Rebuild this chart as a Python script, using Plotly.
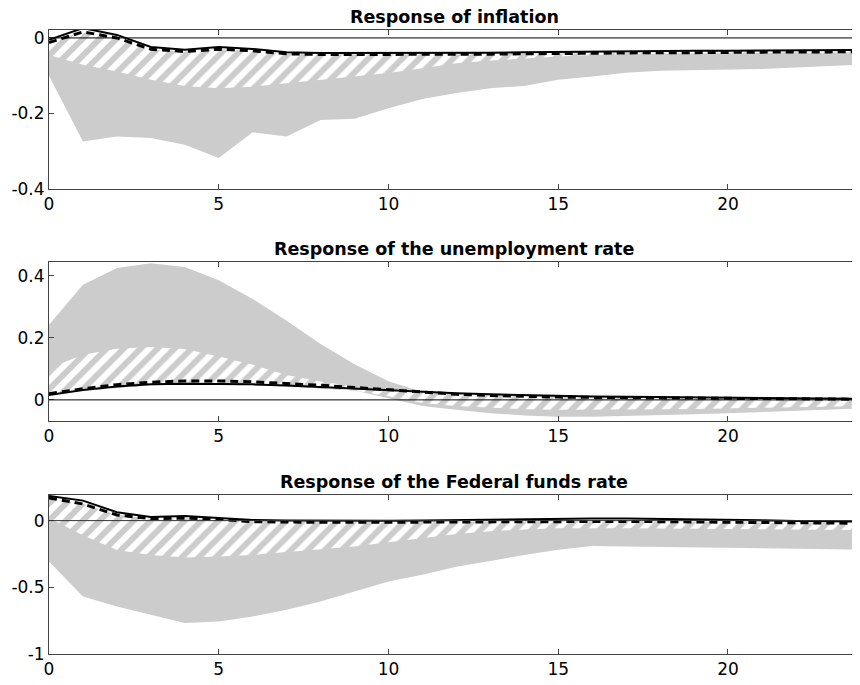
import plotly.graph_objects as go

horizon = list(range(25))

# ---------- Panel 1: inflation ----------
infl_solid = [-0.005, 0.026, 0.008, -0.024, -0.031, -0.024, -0.029, -0.038, -0.040, -0.040,
              -0.040, -0.040, -0.040, -0.039, -0.038, -0.037, -0.036, -0.035, -0.035, -0.034,
              -0.034, -0.033, -0.033, -0.032, -0.032]
infl_dashed = [-0.012, 0.016, 0.000, -0.030, -0.036, -0.030, -0.034, -0.042, -0.044, -0.044,
               -0.044, -0.044, -0.044, -0.043, -0.042, -0.041, -0.040, -0.040, -0.039, -0.039,
               -0.038, -0.038, -0.037, -0.037, -0.036]
infl_hatch_hi = [-0.010, 0.016, 0.000, -0.030, -0.036, -0.030, -0.034, -0.042, -0.044, -0.044,
                 -0.044, -0.044, -0.044, -0.043, -0.042, -0.041, -0.040, -0.040, -0.039, -0.039,
                 -0.038, -0.038, -0.037, -0.037, -0.036]
infl_hatch_lo = [-0.045, -0.071, -0.089, -0.111, -0.127, -0.133, -0.129, -0.120, -0.111, -0.100,
                 -0.093, -0.080, -0.067, -0.060, -0.054, -0.049, -0.045, -0.043, -0.041, -0.040,
                 -0.040, -0.039, -0.039, -0.038, -0.038]
infl_band_hi = [-0.015, 0.005, -0.008, -0.035, -0.040, -0.035, -0.038, -0.045, -0.046, -0.046,
                -0.046, -0.046, -0.045, -0.045, -0.044, -0.043, -0.042, -0.042, -0.041, -0.041,
                -0.040, -0.040, -0.040, -0.039, -0.039]
infl_band_lo = [-0.100, -0.274, -0.261, -0.265, -0.283, -0.318, -0.250, -0.261, -0.217, -0.214,
                -0.186, -0.162, -0.146, -0.133, -0.127, -0.111, -0.102, -0.092, -0.087, -0.086,
                -0.084, -0.082, -0.078, -0.074, -0.070]

# ---------- Panel 2: unemployment ----------
unemp_solid = [0.016, 0.032, 0.043, 0.050, 0.052, 0.052, 0.050, 0.046, 0.041, 0.036,
               0.030, 0.025, 0.021, 0.018, 0.015, 0.013, 0.011, 0.010, 0.009, 0.008,
               0.007, 0.006, 0.005, 0.004, 0.003]
unemp_dashed = [0.020, 0.036, 0.049, 0.057, 0.061, 0.061, 0.058, 0.053, 0.047, 0.040,
                0.032, 0.024, 0.018, 0.014, 0.011, 0.009, 0.008, 0.007, 0.006, 0.005,
                0.004, 0.004, 0.003, 0.003, 0.002]
unemp_hatch_hi = [0.102, 0.145, 0.165, 0.170, 0.164, 0.140, 0.113, 0.080, 0.059, 0.043,
                  0.030, 0.024, 0.019, 0.015, 0.012, 0.010, 0.009, 0.008, 0.007, 0.006,
                  0.005, 0.005, 0.004, 0.004, 0.003]
unemp_hatch_lo = [0.020, 0.029, 0.040, 0.047, 0.049, 0.049, 0.047, 0.043, 0.037, 0.030,
                  0.012, -0.010, -0.020, -0.026, -0.030, -0.032, -0.032, -0.031, -0.030, -0.029,
                  -0.027, -0.025, -0.023, -0.021, -0.020]
unemp_band_hi = [0.242, 0.371, 0.425, 0.440, 0.428, 0.385, 0.325, 0.255, 0.180, 0.115,
                 0.060, 0.025, 0.019, 0.015, 0.012, 0.010, 0.009, 0.008, 0.007, 0.006,
                 0.005, 0.005, 0.004, 0.004, 0.003]
unemp_band_lo = [0.020, 0.029, 0.040, 0.047, 0.049, 0.049, 0.047, 0.043, 0.037, 0.030,
                 0.005, -0.020, -0.032, -0.043, -0.050, -0.054, -0.054, -0.052, -0.049, -0.046,
                 -0.043, -0.039, -0.034, -0.030, -0.027]

# ---------- Panel 3: Federal funds rate ----------
ffr_solid = [0.185, 0.150, 0.063, 0.028, 0.035, 0.022, 0.005, 0.000, -0.002, -0.002,
             -0.001, 0.000, 0.004, 0.008, 0.012, 0.015, 0.016, 0.015, 0.013, 0.010,
             0.006, 0.002, -0.002, -0.005, -0.007]
ffr_dashed = [0.170, 0.125, 0.042, 0.015, 0.018, 0.010, -0.008, -0.012, -0.013, -0.013,
              -0.012, -0.010, -0.008, -0.006, -0.005, -0.004, -0.005, -0.006, -0.008, -0.010,
              -0.012, -0.014, -0.016, -0.018, -0.020]
ffr_hatch_hi = [0.172, 0.127, 0.044, 0.015, 0.018, 0.010, -0.008, -0.012, -0.013, -0.013,
                -0.012, -0.010, -0.008, -0.006, -0.005, -0.004, -0.005, -0.006, -0.008, -0.010,
                -0.012, -0.014, -0.016, -0.018, -0.020]
ffr_hatch_lo = [0.020, -0.110, -0.220, -0.257, -0.277, -0.270, -0.257, -0.237, -0.220, -0.195,
                -0.162, -0.132, -0.100, -0.080, -0.066, -0.058, -0.056, -0.058, -0.060, -0.062,
                -0.064, -0.066, -0.068, -0.069, -0.070]
ffr_band_hi = [0.050, 0.110, 0.035, 0.008, 0.010, 0.002, -0.015, -0.018, -0.019, -0.019,
               -0.018, -0.016, -0.014, -0.012, -0.011, -0.010, -0.011, -0.012, -0.014, -0.016,
               -0.018, -0.020, -0.022, -0.024, -0.026]
ffr_band_lo = [-0.307, -0.569, -0.644, -0.706, -0.768, -0.756, -0.719, -0.668, -0.606, -0.531,
               -0.457, -0.405, -0.345, -0.302, -0.257, -0.219, -0.190, -0.194, -0.198, -0.202,
               -0.206, -0.209, -0.212, -0.215, -0.217]

titles = ["Response of inflation",
          "Response of the unemployment rate",
          "Response of the Federal funds rate"]

x_ticks = [0, 5, 10, 15, 20]
x_ticklabels = ["0", "5", "10", "15", "20"]
y_ticks = [[-0.4, -0.2, 0], [0, 0.2, 0.4], [-1, -0.5, 0]]
y_ticklabels = [["-0.4", "-0.2", "0"], ["0", "0.2", "0.4"], ["-1", "-0.5", "0"]]
y_ranges = [[-0.4, 0.021], [-0.068, 0.444], [-1.0, 0.192]]
domains = [[0.7452, 1.0], [0.3734, 0.6282], [0.0, 0.2548]]

panels = [
    (infl_band_hi, infl_band_lo, infl_hatch_hi, infl_hatch_lo, infl_dashed, infl_solid),
    (unemp_band_hi, unemp_band_lo, unemp_hatch_hi, unemp_hatch_lo, unemp_dashed, unemp_solid),
    (ffr_band_hi, ffr_band_lo, ffr_hatch_hi, ffr_hatch_lo, ffr_dashed, ffr_solid),
]

GRAY = "#cccccc"
FONT = "DejaVu Sans, Liberation Sans, Arial"
fig = go.Figure()

for i, (bhi, blo, hhi, hlo, dsh, sol) in enumerate(panels):
    n = "" if i == 0 else str(i + 1)
    xa, ya = "x" + n, "y" + n
    # wide gray band
    fig.add_trace(go.Scatter(x=horizon, y=bhi, mode="lines", line=dict(width=0, color=GRAY),
                             xaxis=xa, yaxis=ya, showlegend=False, hoverinfo="skip"))
    fig.add_trace(go.Scatter(x=horizon, y=blo, mode="lines", line=dict(width=0, color=GRAY),
                             fill="tonexty", fillcolor=GRAY,
                             xaxis=xa, yaxis=ya, showlegend=False, hoverinfo="skip"))
    # hatched band
    fig.add_trace(go.Scatter(x=horizon, y=hhi, mode="lines", line=dict(width=0, color=GRAY),
                             xaxis=xa, yaxis=ya, showlegend=False, hoverinfo="skip"))
    fig.add_trace(go.Scatter(x=horizon, y=hlo, mode="lines", line=dict(width=0, color=GRAY),
                             fill="tonexty", fillcolor=GRAY,
                             fillpattern=dict(shape="/", bgcolor=GRAY, fgcolor="#ffffff",
                                              size=12, solidity=0.5, fillmode="replace"),
                             xaxis=xa, yaxis=ya, showlegend=False, hoverinfo="skip"))
    # dashed line
    fig.add_trace(go.Scatter(x=horizon, y=dsh, mode="lines",
                             line=dict(width=3, color="black", dash="8px,5px"),
                             xaxis=xa, yaxis=ya, showlegend=False, hoverinfo="skip"))
    # solid line
    fig.add_trace(go.Scatter(x=horizon, y=sol, mode="lines",
                             line=dict(width=2, color="black"),
                             xaxis=xa, yaxis=ya, showlegend=False, hoverinfo="skip"))
    # zero line
    fig.add_shape(type="line", xref=xa + " domain", yref=ya, x0=0, x1=1, y0=0, y1=0,
                  line=dict(color="black" if i < 2 else "#333333", width=1), layer="above")

    axis_common = dict(showline=True, linecolor="#444444", linewidth=1, mirror="ticks",
                       ticks="inside", ticklen=5, tickcolor="#444444", showgrid=False,
                       zeroline=False, automargin=False,
                       tickfont=dict(family=FONT, size=17, color="black"))
    fig.layout["xaxis" + n] = dict(domain=[0, 1], range=[0, 23.86], anchor=ya,
                                   tickvals=x_ticks, ticktext=x_ticklabels, **axis_common)
    fig.layout["yaxis" + n] = dict(domain=domains[i], range=y_ranges[i], anchor=xa,
                                   tickvals=y_ticks[i], ticktext=y_ticklabels[i], **axis_common)
    fig.add_annotation(text="<b>" + titles[i] + "</b>", xref="paper", yref="paper",
                       x=0.5, y=domains[i][1], xanchor="center", yanchor="bottom",
                       yshift=1, showarrow=False,
                       font=dict(family=FONT, size=17.5, color="black"))

# the page body adds an 8px offset, so the figure is sized to the remaining viewport
fig.update_layout(width=852, height=677, margin=dict(l=41, r=1, t=22, b=31),
                  plot_bgcolor="white", paper_bgcolor="white")

fig.write_html("out.html")
